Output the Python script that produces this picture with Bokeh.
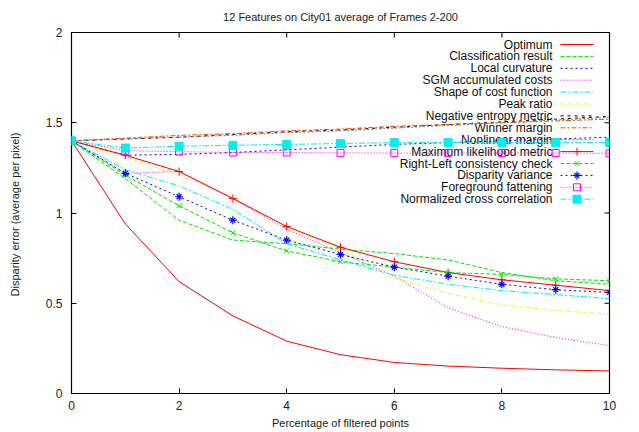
from bokeh.plotting import figure
from bokeh.models import FixedTicker, Range1d
from bokeh.embed import file_html
from bokeh.resources import INLINE
from bokeh.core.properties import value

# ---------------- data ----------------
x = [0, 1, 2, 3, 4, 5, 6, 7, 8, 9, 10]
optimum        = [1.40, 0.94, 0.62, 0.43, 0.29, 0.215, 0.172, 0.152, 0.140, 0.131, 0.125]
classification = [1.40, 1.19, 0.96, 0.85, 0.83, 0.80, 0.775, 0.74, 0.67, 0.625, 0.605]
local_curv     = [1.40, 1.32, 1.325, 1.335, 1.35, 1.365, 1.38, 1.39, 1.40, 1.41, 1.42]
sgm            = [1.40, 1.22, 1.23, 1.08, 0.91, 0.78, 0.65, 0.475, 0.37, 0.31, 0.265]
shape          = [1.40, 1.24, 1.15, 1.02, 0.83, 0.74, 0.655, 0.605, 0.57, 0.548, 0.525]
peak           = [1.40, 1.31, 1.21, 1.085, 0.92, 0.80, 0.64, 0.555, 0.49, 0.46, 0.44]
neg_entropy    = [1.40, 1.41, 1.42, 1.435, 1.45, 1.46, 1.475, 1.49, 1.505, 1.52, 1.535]
winner         = [1.40, 1.415, 1.43, 1.44, 1.455, 1.465, 1.48, 1.49, 1.50, 1.51, 1.52]
nonlinear      = [1.40, 1.41, 1.42, 1.43, 1.445, 1.455, 1.47, 1.485, 1.50, 1.515, 1.53]
max_likelihood = [1.40, 1.32, 1.23, 1.08, 0.925, 0.81, 0.73, 0.67, 0.63, 0.60, 0.57]
right_left     = [1.40, 1.21, 1.04, 0.89, 0.79, 0.73, 0.70, 0.67, 0.66, 0.635, 0.625]
disp_variance  = [1.40, 1.22, 1.09, 0.96, 0.85, 0.77, 0.70, 0.65, 0.605, 0.575, 0.56]
fg_fattening   = [1.40, 1.345, 1.34, 1.335, 1.335, 1.333, 1.332, 1.332, 1.332, 1.332, 1.33]
ncc            = [1.40, 1.36, 1.37, 1.375, 1.38, 1.385, 1.39, 1.39, 1.39, 1.39, 1.39]

x_ticks = [0, 2, 4, 6, 8, 10]
y_ticks = [0, 0.5, 1, 1.5, 2]
y_tick_labels = ["0", "0.5", "1", "1.5", "2"]

title_text = "12 Features on City01 average of Frames 2-200"
x_label = "Percentage of filtered points"
y_label = "Disparity error (average  per pixel)"

# name, values, color, dash, marker
series = [
    ("Optimum", optimum, "#ff0000", "solid", None),
    ("Classification result", classification, "#00e600", "4 2", None),
    ("Local curvature", local_curv, "#0000ff", "2 3", None),
    ("SGM accumulated costs", sgm, "#ff00ff", "1 2", None),
    ("Shape of cost function", shape, "#00f0f0", "6 2 2 2", None),
    ("Peak ratio", peak, "#f0f000", "3 2 1 2", None),
    ("Negative entropy metric", neg_entropy, "#000000", "3 4", None),
    ("Winner margin", winner, "#ff4d00", "5 2 2 2", None),
    ("Nonlinear margin", nonlinear, "#808080", "2 2", None),
    ("Maximum likelihood metric", max_likelihood, "#ff0000", "solid", "cross"),
    ("Right-Left consistency check", right_left, "#00e600", "4 2", "x"),
    ("Disparity variance", disp_variance, "#0000ff", "2 3", "asterisk"),
    ("Foreground fattening", fg_fattening, "#ff00ff", "1 2", "open_square"),
    ("Normalized cross correlation", ncc, "#00f0f0", "6 2 2 2", "filled_square"),
]

FONT = "Liberation Sans"
FW, FH = 538, 361
X0, X1 = 0, 10
Y0, Y1 = 0, 2

p = figure(frame_width=FW, frame_height=FH,
           min_border_left=71, min_border_right=18,
           min_border_top=32, min_border_bottom=32,
           x_range=Range1d(X0, X1), y_range=Range1d(Y0, Y1),
           output_backend="svg", toolbar_location=None,
           title=title_text)
p.title.align = "center"
p.title.vertical_align = "top"
p.title.text_font = FONT
p.title.text_font_size = "11px"
p.title.text_font_style = "normal"
p.title.text_color = "#222222"
p.title.standoff = 16
p.xgrid.visible = False
p.ygrid.visible = False
p.outline_line_color = "black"
p.outline_line_width = 1.2
p.background_fill_color = "white"
p.border_fill_color = "white"


def style_axis(ax):
    ax.major_tick_in = 5
    ax.major_tick_out = 0
    ax.minor_tick_line_color = None
    ax.axis_line_color = None
    ax.major_tick_line_color = "black"
    ax.major_label_text_font = FONT
    ax.major_label_text_font_size = "12px"
    ax.major_label_text_color = "#222222"


xa = p.xaxis[0]
xa.ticker = FixedTicker(ticks=x_ticks)
style_axis(xa)
xa.major_label_standoff = 7
xa.axis_label = x_label
xa.axis_label_text_font = FONT
xa.axis_label_text_font_size = "11px"
xa.axis_label_text_font_style = "normal"
xa.axis_label_text_color = "#222222"
xa.axis_label_standoff = 4

ya = p.yaxis[0]
ya.ticker = FixedTicker(ticks=y_ticks)
ya.major_label_overrides = {t: s for t, s in zip(y_ticks, y_tick_labels)}
style_axis(ya)
ya.major_label_standoff = 9
ya.axis_label = y_label
ya.axis_label_text_font = FONT
ya.axis_label_text_font_size = "11px"
ya.axis_label_text_font_style = "normal"
ya.axis_label_text_color = "#222222"
ya.axis_label_standoff = 22

px_per_x = FW / (X1 - X0)
px_per_y = FH / (Y1 - Y0)

# mirrored ticks on the top and right borders (gnuplot style)
tick_len = 5
p.segment(x0=x_ticks, y0=[Y1] * len(x_ticks),
          x1=x_ticks, y1=[Y1 - tick_len / px_per_y] * len(x_ticks),
          line_color="black", line_width=1)
p.segment(x0=[X1] * len(y_ticks), y0=y_ticks,
          x1=[X1 - tick_len / px_per_x] * len(y_ticks), y1=y_ticks,
          line_color="black", line_width=1)

# --------------- key (gnuplot style: text right-aligned, sample to the right) --------
key_text_x = 481 / px_per_x
key_s0 = 489 / px_per_x
key_s1 = 522 / px_per_x
key_top = Y1 - 12 / px_per_y
key_step = 11.9 / px_per_y


def draw_marker(xs, ys, color, marker):
    if marker == "cross":
        p.scatter(xs, ys, marker="cross", size=8, line_color=color, line_width=1)
    elif marker == "x":
        p.scatter(xs, ys, marker="x", size=7, line_color=color, line_width=1)
    elif marker == "asterisk":
        p.scatter(xs, ys, marker="cross", size=8, line_color=color, line_width=1.2)
        p.scatter(xs, ys, marker="x", size=7, line_color=color, line_width=1.2)
    elif marker == "open_square":
        p.scatter(xs, ys, marker="square", size=7, line_color=color,
                  fill_color=None, line_width=1)
    elif marker == "filled_square":
        p.scatter(xs, ys, marker="square", size=8, line_color=color,
                  fill_color=color, line_width=1)


names = [s[0] for s in series]
key_ys = [key_top - i * key_step for i in range(len(series))]
p.text(x=[key_text_x] * len(names), y=key_ys, text=names,
       text_align="right", text_baseline="middle",
       text_font=value(FONT), text_font_size="12px", text_color="#111111")

for (name, vals, color, dash, marker), ky in zip(series, key_ys):
    p.line([key_s0, key_s1], [ky, ky], line_color=color, line_width=1, line_dash=dash)
    if marker:
        draw_marker([(key_s0 + key_s1) / 2], [ky], color, marker)

# --------------- data lines ----------------
for name, vals, color, dash, marker in series:
    p.line(x, vals, line_color=color, line_width=1, line_dash=dash)
    if marker:
        draw_marker(x, vals, color, marker)

open("out.html", "w").write(file_html(p, INLINE))
